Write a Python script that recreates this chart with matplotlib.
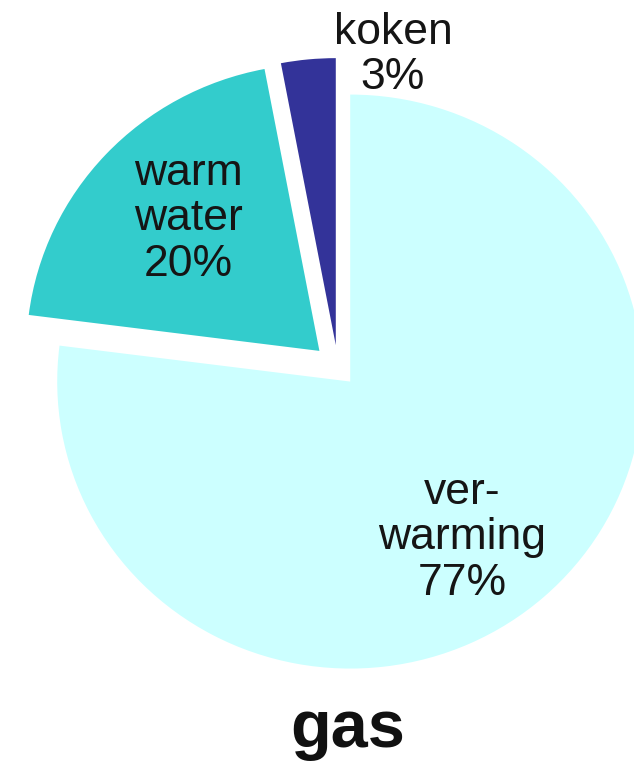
import matplotlib
matplotlib.use("Agg")
import matplotlib.pyplot as plt

labels = ["ver-\nwarming", "warm\nwater", "koken"]
values = [77, 20, 3]
colors = ["#CCFFFF", "#33CCCC", "#333399"]
explode = [0.063, 0.087, 0.08]
title = "gas"

W, H = 634, 763
fig = plt.figure(figsize=(W / 100, H / 100), dpi=100)
ax = fig.add_axes([0, 0, 1, 1])

cx, cy = 338, 368      # pie centre in pixels (from top-left)
rx, ry = 293, 287      # radius in pixels (slightly stretched horizontally)

def px(x, y):
    return (x - cx) / rx, (cy - y) / ry

ax.pie(values, colors=colors, explode=explode, startangle=90, counterclock=False,
       wedgeprops=dict(linewidth=0))
ax.set_aspect("auto")
x0, y1 = px(0, 0)
x1, y0 = px(W, H)
ax.set_xlim(x0, x1)
ax.set_ylim(y0, y1)
ax.axis("off")

font = ["Liberation Sans", "DejaVu Sans"]
tc = "#151515"
pos = [(462, 538), (188, 219), (393, 55)]
for lab, v, (x, y) in zip(labels, values, pos):
    tx, ty = px(x, y)
    ax.text(tx, ty, f"{lab}\n{v}%", ha="center", va="center", fontsize=32,
            family=font, color=tc, linespacing=1.15)

tx, ty = px(348, 730)
ax.text(tx, ty, title, ha="center", va="center", fontsize=48, fontweight="bold",
        family=font, color="#111111")

fig.savefig("out.png", dpi=100)
